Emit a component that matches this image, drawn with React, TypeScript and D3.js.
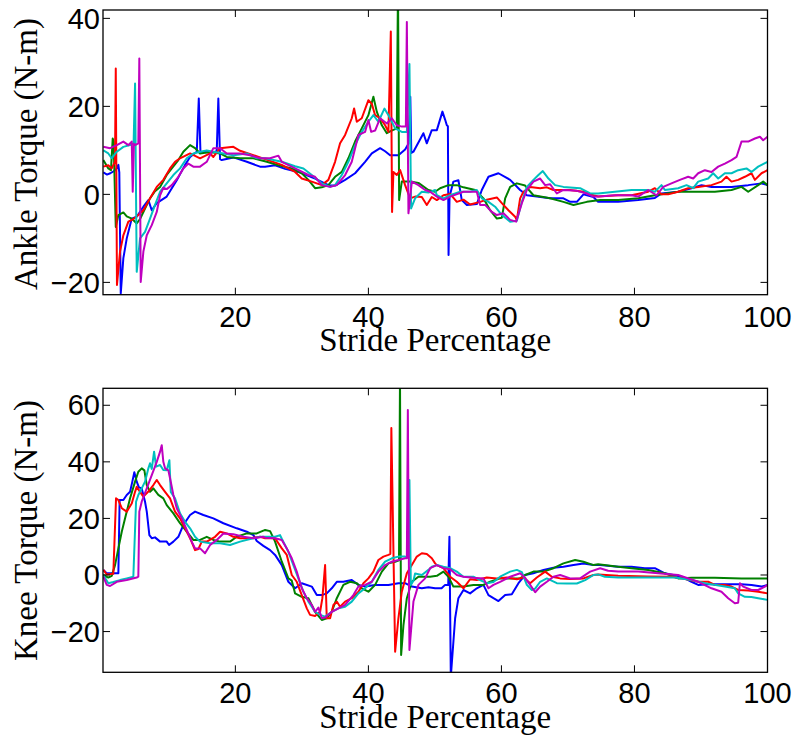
import React from "react";
import * as d3 from "d3";

type Pt = [number, number];

const xTicks = [20, 40, 60, 80, 100];
const ankleYTicks = [-20, 0, 20, 40];
const kneeYTicks = [-20, 0, 20, 40, 60];
const seriesColors = ["#0000ff", "#008000", "#ff0000", "#00bfbf", "#bf00bf"];

const ankleBlue: Pt[] = [
  [0.15, 5.0], [0.7, 4.5], [1.2, 4.8], [2.0, 5.5], [2.41, 6.7], [2.55, 5.0], [2.77, -22.5], [3.16, -14.5], [3.67, -10], [4.42, -5.5],
  [5.17, -5.1], [6.17, -2.8], [6.92, -1.3], [7.43, -3.6], [8.18, -2.0], [9.68, -0.5], [11.19, 3.2], [12.44, 6.7], [13.19, 8.5], [14.2, 9.7],
  [14.5, 21.8], [14.75, 9.7], [15.7, 9.6], [16.7, 9.6], [17.2, 9.8], [17.44, 21.8], [17.7, 8.0], [17.95, 7.8], [19.7, 8.4], [21.72, 7.4],
  [23.71, 6.3], [24.47, 6.3], [25.97, 6.6], [27.48, 5.8], [29.47, 5.1], [31.98, 3.6], [33.98, 2.1], [34.99, 2.0], [36.5, 3.3], [38.0, 4.8],
  [39.5, 7.4], [40.51, 9.3], [41.76, 10.5], [42.51, 9.8], [43.26, 8.9], [44.51, 8.9], [45.52, 10.2], [46.02, 11.5], [46.3, 22.2], [46.45, 9.4],
  [46.77, 9.7], [48.27, 13.9], [48.78, 11.6], [49.53, 14.6], [50.29, 14.6], [51.13, 18.8], [51.53, 17.0], [51.79, 15.7], [51.95, 15.5], [52.05, -13.8],
  [52.2, -0.5], [52.78, 2.9], [53.53, 3.2], [54.04, -1.3], [54.8, -2.4], [56.3, -2.2], [57.05, 1.0], [58.05, 4.0], [59.55, 4.8], [61.31, 3.3],
  [62.81, 1.0], [63.82, -0.2], [65.32, -0.5], [67.32, -0.9], [69.32, -0.9], [70.33, -1.7], [71.34, -1.7], [72.33, 0.0], [73.83, -0.6], [74.54, -1.7],
  [77.55, -1.7], [80.56, -1.3], [83.07, -0.8], [84.06, 0.2], [86.57, 0.6], [88.57, 1.4], [90.08, 2.1], [91.58, 1.7], [94.59, 1.7], [97.1, 2.1],
  [99.1, 2.5], [100, 2.1],
];

const ankleGreen: Pt[] = [
  [0.15, 7.8], [0.9, 5.9], [1.3, 5.5], [1.56, 12.7], [1.7, 12.0], [2.02, -7.4], [2.41, -4.7], [3.16, -4.1], [3.67, -5.0], [4.42, -5.5],
  [5.17, -6.6], [5.67, -5.6], [6.42, -3.2], [7.17, -0.9], [7.92, 0.7], [8.68, 1.7], [9.68, 4.4], [10.44, 5.9], [11.43, 7.8], [12.18, 9.7],
  [13.19, 11.2], [13.94, 10.5], [14.69, 9.3], [16.2, 9.6], [17.7, 9.3], [18.71, 8.5], [20.71, 8.2], [22.7, 8.2], [24.72, 7.4], [26.47, 6.6],
  [28.48, 5.9], [29.98, 4.8], [30.98, 3.3], [31.98, 1.4], [32.99, 1.6], [33.98, 2.1], [34.99, 4.0], [36.0, 5.1], [36.99, 8.2], [38.0, 12.0],
  [39.0, 15.0], [40.0, 18.0], [40.75, 22.2], [41.26, 18.8], [42.02, 15.7], [42.77, 13.9], [43.5, 14.5], [44.27, 15.0], [44.45, 48], [44.62, -1.3],
  [45.02, 2.9], [46.3, 2.9], [47.52, 2.6], [49.02, 1.0], [50.03, 0.6], [50.78, 1.4], [52.03, 2.1], [53.3, 2.1], [54.29, 1.6], [56.05, 1.0],
  [57.29, -0.9], [58.3, -3.6], [59.31, -5.5], [60.06, -5.3], [60.56, -0.9], [61.31, 1.7], [62.32, 2.5], [63.56, 2.0], [64.81, -0.2], [67.32, -0.9],
  [69.32, -1.7], [70.83, -2.4], [72.84, -1.7], [74.84, -1.3], [77.55, -1.3], [80.56, -0.9], [83.07, -0.2], [86.57, 0.6], [92.09, 0.6], [94.59, 1.0],
  [96.09, 1.7], [97.1, 0.6], [98.6, 2.1], [99.35, 2.9], [100, 2.1],
];

const ankleRed: Pt[] = [
  [0.15, 6.3], [0.9, 6.6], [1.41, 5.9], [1.9, 7.4], [2.02, 28.6], [2.2, -20.6], [2.66, -13.0], [3.16, -9.3], [3.91, -6.2], [4.66, -5.6],
  [5.41, -4.7], [6.17, -3.6], [7.17, -0.9], [8.18, 1.7], [9.17, 3.3], [10.18, 5.9], [10.93, 7.4], [11.68, 8.2], [13.19, 9.3], [14.69, 8.2],
  [16.2, 9.3], [16.69, 8.5], [17.7, 10.5], [19.7, 10.8], [20.71, 9.9], [22.71, 8.9], [24.47, 8.0], [26.98, 6.7], [28.98, 5.1], [29.98, 3.6],
  [31.49, 2.9], [32.99, 2.1], [33.98, 3.3], [34.99, 7.4], [35.74, 11.6], [36.5, 13.5], [37.5, 17.3], [37.85, 19.5], [38.26, 16.5], [39.0, 17.3],
  [40.0, 21.4], [40.51, 20.6], [41.01, 18.0], [41.76, 17.3], [42.51, 15.7], [43.01, 14.2], [43.37, 37.0], [43.56, -4.0], [43.76, 5.1], [44.27, 4.4],
  [44.77, 5.5], [45.52, 2.1], [46.27, -0.9], [47.02, -0.5], [48.03, -0.6], [48.78, -2.4], [49.53, -0.6], [50.29, -1.3], [51.28, -0.2], [52.29, 0.1],
  [53.29, -1.7], [54.29, -1.2], [55.29, -2.3], [56.8, -1.7], [57.8, -1.2], [59.31, -0.7], [60.06, -2.0], [61.05, -3.6], [62.06, -5.1], [62.32, -5.8],
  [62.81, -0.9], [63.31, 0.6], [64.32, 1.7], [65.82, 1.4], [66.83, 1.6], [67.82, 1.0], [70.33, 1.0], [72.33, 0.6], [73.83, -0.2], [74.54, -0.5],
  [77.55, -0.2], [79.55, -0.2], [82.06, 0.6], [83.07, 1.4], [84.06, 0.0], [85.07, 0.0], [86.57, 0.6], [88.07, 1.4], [89.58, 1.7], [91.58, 2.1],
  [93.08, 2.9], [93.83, 4.0], [94.59, 2.9], [95.59, 3.3], [96.6, 4.0], [97.59, 4.8], [98.1, 3.3], [99.1, 4.8], [100, 5.5],
];

const ankleCyan: Pt[] = [
  [0.15, 10.0], [0.9, 9.3], [1.41, 8.2], [2.17, 9.7], [3.16, 10.8], [4.17, 11.2], [4.7, 11.6], [4.92, 25.2], [5.17, -17.6], [5.67, -10.0],
  [6.42, -8.5], [7.17, -5.5], [7.92, -2.4], [8.68, 0.6], [9.68, 2.5], [10.68, 4.4], [11.68, 5.9], [12.69, 8.2], [13.68, 9.3], [14.69, 9.7],
  [15.7, 10.0], [16.69, 9.7], [18.2, 9.3], [19.7, 8.9], [21.72, 9.3], [23.22, 8.2], [24.47, 8.2], [26.98, 7.4], [28.98, 6.4], [30.23, 5.9],
  [31.49, 4.4], [32.99, 2.5], [34.24, 1.7], [34.99, 2.1], [36.0, 4.4], [36.99, 7.4], [38.0, 11.2], [39.0, 14.2], [40.0, 16.5], [40.75, 18.0],
  [41.5, 16.5], [42.41, 19.5], [43.01, 18.0], [44.02, 15.0], [45.02, 14.2], [45.78, 14.2], [46.17, 29.6], [46.42, -3.2], [47.02, -0.9], [48.03, 0.6],
  [49.02, 0.4], [50.03, 1.0], [50.29, -0.2], [51.28, -0.9], [52.29, -0.2], [53.79, 0.6], [55.29, 0.6], [56.3, 1.0], [57.05, -0.9], [58.05, -1.7],
  [59.05, -2.8], [60.06, -4.7], [61.31, -6.2], [62.32, -6.0], [63.07, -1.7], [63.82, 1.7], [64.81, 3.3], [65.56, 4.4], [66.22, 5.3], [67.07, 3.6],
  [68.07, 2.1], [69.32, 1.7], [71.83, 1.4], [73.34, 0.2], [74.54, 0.2], [77.05, 0.6], [79.55, 1.0], [82.06, 1.0], [83.07, 0.6], [84.06, 2.1],
  [84.57, 1.0], [86.57, 1.4], [87.82, 2.1], [88.83, 1.4], [89.58, 2.9], [91.08, 3.6], [91.83, 4.8], [92.59, 3.6], [93.59, 4.8], [94.59, 4.8],
  [95.59, 5.5], [96.84, 5.9], [97.59, 5.1], [98.6, 6.3], [100, 7.4],
];

const ankleMagenta: Pt[] = [
  [0.15, 10.8], [1.16, 10.5], [2.17, 11.2], [3.16, 12.0], [3.91, 11.2], [4.42, 12.0], [4.57, 0.6], [4.75, 11.5], [4.92, 11.2], [5.41, 11.6],
  [5.56, 30.9], [5.77, -19.9], [6.17, -13.0], [6.68, -9.3], [7.43, -7.0], [8.18, -4.0], [8.68, -0.2], [9.17, 1.5], [9.68, 1.2], [10.44, 2.1],
  [11.43, 4.0], [12.18, 5.9], [12.93, 7.0], [13.68, 6.3], [14.69, 6.3], [15.7, 7.4], [16.69, 10.5], [17.7, 10.5], [18.71, 9.3], [20.71, 9.3],
  [22.21, 8.9], [23.71, 8.2], [25.22, 8.2], [26.47, 8.8], [26.98, 7.4], [28.98, 5.9], [30.98, 4.4], [31.98, 4.0], [32.99, 2.1], [34.24, 1.7],
  [35.25, 2.1], [36.5, 4.4], [37.5, 7.4], [38.5, 13.5], [39.5, 14.2], [40.0, 16.9], [40.41, 14.2], [41.01, 14.5], [41.76, 17.3], [42.77, 16.1],
  [43.52, 17.3], [44.27, 15.7], [45.02, 15.4], [45.63, 15.4], [45.78, 39.2], [46.02, -4.3], [46.53, 2.9], [47.52, 2.1], [48.53, 1.0], [49.28, 0.6],
  [50.29, -0.5], [51.28, -1.3], [52.29, -0.5], [54.29, 0.6], [56.3, 0.6], [56.8, -2.4], [57.55, -2.4], [58.56, -4.0], [59.31, -4.7], [60.3, -4.3],
  [61.31, -5.8], [62.21, -6.2], [63.07, -2.0], [63.82, 1.0], [64.81, 2.9], [65.82, 3.6], [66.57, 2.1], [67.32, 2.3], [68.33, 0.2], [69.32, 1.0],
  [71.34, 0.8], [72.84, 0.2], [73.83, -0.5], [74.54, -0.5], [77.05, -0.2], [79.55, -0.2], [80.56, -0.5], [82.06, 1.0], [83.31, -0.2], [84.32, 1.7],
  [85.56, 2.5], [86.83, 3.3], [88.07, 4.0], [88.83, 3.6], [89.58, 4.8], [90.59, 5.5], [91.58, 5.1], [92.59, 6.3], [93.59, 7.0], [94.59, 7.8],
  [95.34, 8.5], [96.09, 12.0], [97.1, 12.0], [98.1, 12.7], [98.86, 13.1], [99.35, 12.3], [100, 13.1],
];

const kneeBlue: Pt[] = [
  [0.15, 1.8], [0.66, 0.6], [1.16, 0.6], [2.41, 0.6], [2.6, 26.5], [3.16, 26.5], [3.67, 28.3], [4.17, 29.4], [4.51, 33.0], [4.81, 36.3],
  [5.17, 33.0], [5.5, 31.0], [5.92, 30.6], [6.42, 25.9], [6.68, 22.4], [7.07, 14.1], [7.43, 13.0], [7.92, 13.3], [8.68, 11.8], [9.68, 11.8],
  [10.03, 10.6], [10.68, 11.8], [11.43, 13.5], [12.18, 17.7], [13.19, 21.2], [13.94, 22.4], [15.19, 21.2], [16.69, 20.0], [18.2, 18.3], [20.21, 16.5],
  [21.72, 15.3], [22.71, 14.1], [23.22, 12.0], [24.21, 10.3], [25.22, 8.8], [25.97, 7.1], [26.98, 3.5], [27.97, -2.4], [28.98, -4.7], [29.98, -2.9],
  [31.49, -4.1], [32.24, -7.1], [32.99, -7.1], [33.74, -6.5], [34.49, -4.7], [35.25, -2.4], [36.24, -2.4], [37.5, -1.8], [38.5, -3.5], [39.5, -4.1],
  [41.01, -3.5], [43.01, -3.5], [44.51, -2.9], [45.52, -2.9], [46.53, -4.1], [48.03, -4.7], [49.02, -4.3], [50.03, -4.7], [51.0, -4.7], [51.53, -3.5],
  [52.0, -3.5], [52.18, 13.5], [52.39, -36], [53.04, -15.3], [53.53, -8.2], [54.29, -5.3], [55.29, -6.5], [56.3, -4.7], [57.29, -3.5], [58.05, -7.1],
  [58.8, -8.2], [59.55, -9.2], [60.56, -7.1], [61.56, -6.8], [62.56, -2.9], [63.56, 0.0], [64.81, 0.6], [66.32, 1.8], [67.82, 2.6], [69.32, 2.9],
  [70.83, 3.5], [72.33, 4.1], [73.83, 3.5], [74.84, 3.5], [77.55, 2.9], [79.55, 2.9], [81.56, 2.4], [83.07, 2.4], [84.57, 0.6], [87.07, -0.6],
  [88.57, -2.4], [89.58, -3.5], [91.08, -3.3], [93.59, -3.3], [96.09, -3.3], [97.59, -3.5], [99.1, -4.1], [100, -3.5],
];

const kneeGreen: Pt[] = [
  [0.15, 0.0], [0.9, -0.9], [1.41, -0.3], [1.91, 3.5], [2.41, 9.4], [2.92, 15.3], [3.41, 20.0], [4.17, 27.1], [4.92, 33.0], [5.41, 36.5],
  [5.92, 37.7], [6.32, 37.0], [6.68, 31.8], [7.17, 29.4], [7.67, 30.6], [8.42, 28.3], [9.17, 27.1], [9.68, 24.7], [10.68, 21.8], [11.68, 18.3],
  [12.69, 15.3], [13.68, 12.4], [14.69, 12.4], [15.7, 13.5], [16.69, 12.4], [17.7, 11.8], [19.2, 11.8], [20.21, 13.5], [21.72, 14.7], [23.22, 14.7],
  [24.21, 15.7], [24.47, 15.9], [25.22, 15.5], [25.97, 11.8], [26.98, 4.7], [27.97, -1.2], [28.48, -2.0], [28.98, -6.5], [29.98, -7.7], [30.98, -8.2],
  [31.98, -13.0], [32.99, -15.9], [33.74, -15.3], [34.49, -13.0], [35.25, -8.2], [36.24, -3.5], [37.25, -2.4], [38.26, -2.9], [39.0, -4.7], [40.0, -5.9],
  [41.01, -3.5], [42.02, 1.2], [43.01, 4.1], [44.02, 4.7], [44.6, 5.2], [44.75, 70], [44.92, -28.3], [45.27, -17.7], [45.78, -8.2], [46.53, -2.4],
  [47.52, -0.6], [48.53, -0.6], [49.28, -0.6], [50.29, -0.3], [51.28, 1.2], [52.03, -0.6], [52.78, -4.1], [54.29, -4.1], [55.79, -3.5], [57.29, -3.5],
  [58.3, -2.4], [59.8, -1.2], [61.8, -1.2], [62.81, -1.2], [63.56, 0.0], [64.81, 1.2], [66.32, 1.2], [67.82, 2.4], [69.32, 4.1], [71.08, 5.3],
  [72.33, 4.7], [73.83, 3.5], [74.54, 3.8], [77.55, 2.9], [79.55, 2.4], [82.06, 1.8], [84.57, 0.6], [86.57, -1.2], [88.57, -1.0], [92.09, -1.0],
  [96.09, -1.2], [100, -1.2],
];

const kneeRed: Pt[] = [
  [0.15, 1.8], [0.66, 0.2], [1.65, 0.4], [2.06, 27.1], [2.41, 26.5], [2.92, 23.6], [3.67, 22.4], [4.42, 25.3], [4.92, 29.4], [5.17, 31.2],
  [5.67, 29.4], [6.17, 27.7], [6.92, 29.5], [7.67, 31.8], [8.18, 33.6], [8.68, 31.8], [9.43, 29.4], [10.18, 27.1], [10.93, 22.4], [11.68, 20.0],
  [12.44, 16.5], [13.19, 13.0], [13.94, 8.8], [14.44, 9.2], [14.95, 11.8], [15.7, 11.8], [16.95, 13.5], [17.7, 15.3], [18.71, 14.7], [19.7, 13.5],
  [20.71, 13.0], [22.21, 13.0], [23.71, 13.5], [24.47, 13.0], [25.97, 13.0], [26.98, 9.4], [27.73, 7.1], [28.48, 0.0], [29.23, -2.4], [29.98, -7.1],
  [30.74, -11.8], [31.23, -14.1], [31.98, -14.5], [32.74, -13.0], [33.08, -8.2], [33.49, 3.5], [33.74, -15.3], [34.24, -15.3], [34.74, -10.6], [35.25, -9.4],
  [35.74, -11.2], [36.5, -9.4], [37.5, -8.2], [38.5, -5.9], [39.25, -2.9], [40.0, -1.2], [40.75, 1.2], [41.5, 5.3], [42.26, 6.5], [43.01, 7.1],
  [43.3, 7.5], [43.45, 52.0], [44.02, -27.1], [44.51, -15.3], [45.02, -5.9], [45.78, 0.6], [46.53, 3.5], [47.28, 6.5], [48.03, 7.7], [48.78, 7.4],
  [49.53, 5.9], [50.03, 4.1], [50.29, 3.5], [51.28, 2.4], [52.29, -0.6], [53.29, -2.4], [54.29, -4.7], [55.29, -1.5], [56.3, -1.8], [57.8, -0.9],
  [59.31, -1.2], [60.81, -0.9], [62.32, -1.5], [63.31, -0.9], [64.32, -2.9], [65.32, -0.9], [66.57, 1.2], [67.58, -0.6], [68.83, -1.2], [70.33, -1.4],
  [72.33, -1.2], [73.83, 0.0], [74.54, 0.2], [77.55, -0.3], [82.06, -0.5], [85.56, -0.6], [87.07, -1.2], [89.58, -2.4], [91.08, -2.4], [92.09, -3.5],
  [93.59, -3.5], [94.59, -4.1], [95.59, -5.3], [97.1, -5.5], [98.6, -5.9], [100, -6.5],
];

const kneeCyan: Pt[] = [
  [0.15, 0.0], [0.9, -2.9], [1.65, -2.5], [2.66, -1.8], [3.67, -1.2], [4.66, -0.6], [5.07, 25.9], [5.41, 28.3], [5.92, 30.6], [6.42, 33.0],
  [6.92, 37.7], [7.17, 39.5], [7.43, 37.5], [7.78, 43.6], [8.08, 38.3], [8.68, 38.9], [9.17, 37.1], [9.68, 37.0], [10.08, 40.6], [10.29, 29.4],
  [10.93, 27.1], [11.68, 21.8], [12.44, 18.8], [13.19, 16.5], [13.94, 13.5], [14.69, 11.8], [16.2, 11.2], [17.7, 11.2], [19.2, 10.6], [20.71, 11.8],
  [22.21, 12.7], [23.71, 13.5], [24.47, 13.5], [25.97, 13.5], [26.72, 14.1], [26.98, 12.8], [27.97, 8.2], [28.72, 3.5], [29.47, -1.2], [30.23, -5.9],
  [30.98, -9.4], [31.98, -13.0], [32.74, -14.1], [33.49, -14.7], [34.49, -13.0], [35.49, -11.8], [36.5, -11.2], [37.5, -9.4], [38.5, -6.5], [39.5, -4.7],
  [40.51, -2.4], [41.5, 1.8], [42.51, 4.7], [43.52, 5.9], [44.51, 6.5], [45.52, 6.5], [46.02, 6.2], [46.17, 33.6], [46.38, -3.5], [46.77, -2.0],
  [47.02, 0.5], [48.03, 0.0], [49.02, 1.8], [49.53, 2.9], [50.29, 3.5], [51.28, 2.9], [52.29, 2.4], [53.29, 1.2], [54.29, -0.6], [55.79, -0.6],
  [56.8, -1.8], [57.8, -2.9], [58.8, -2.5], [59.8, -0.6], [61.31, 1.2], [62.32, 1.8], [63.07, 1.0], [63.82, -3.5], [64.57, -5.3], [65.07, -4.8],
  [65.82, -2.4], [66.83, -1.2], [68.33, -2.9], [69.83, -3.0], [71.34, -3.0], [72.59, -1.8], [73.83, 0.0], [74.54, 0.2], [75.55, -0.6], [77.55, -0.9],
  [82.06, -0.9], [86.07, -0.9], [88.57, -1.8], [90.59, -2.9], [93.59, -4.1], [95.09, -4.7], [95.59, -6.5], [96.6, -7.7], [97.59, -7.8], [98.6, -8.2],
  [100, -8.8],
];

const kneeMagenta: Pt[] = [
  [0.15, -0.6], [0.66, -3.5], [1.16, -3.9], [2.17, -2.4], [3.67, -1.8], [5.17, -0.9], [5.41, -0.6], [5.56, 22.4], [5.92, 25.9], [6.68, 30.6],
  [7.43, 35.3], [8.18, 40.0], [8.68, 43.6], [8.93, 45.9], [9.17, 40.0], [9.43, 37.7], [9.92, 37.0], [10.18, 34.2], [10.68, 28.3], [11.19, 23.6],
  [11.94, 20.0], [12.69, 15.9], [13.44, 11.8], [13.94, 9.4], [14.69, 9.4], [15.44, 7.7], [16.2, 10.6], [17.2, 12.4], [18.2, 14.7], [19.7, 14.4],
  [21.2, 13.5], [22.71, 13.0], [24.21, 13.5], [24.47, 13.2], [25.97, 13.0], [26.98, 12.4], [27.73, 9.4], [28.48, 5.9], [29.23, 1.2], [29.98, -4.7],
  [30.74, -8.2], [31.49, -10.6], [31.98, -13.0], [32.48, -11.5], [32.99, -15.3], [33.49, -15.0], [34.49, -13.0], [35.49, -11.8], [36.5, -10.6], [37.74, -7.1],
  [38.5, -4.1], [39.5, -3.5], [40.51, -2.4], [41.5, 1.2], [42.51, 3.5], [43.52, 4.7], [44.51, 5.3], [45.52, 5.9], [45.78, 5.9], [45.93, 58.3],
  [46.17, -26.5], [46.77, -9.4], [47.52, -3.5], [48.53, -1.2], [49.28, 2.4], [50.29, 3.5], [51.28, 2.4], [52.29, 2.0], [53.29, 0.0], [54.29, -0.6],
  [55.79, -1.0], [57.29, -1.2], [58.05, -4.7], [58.8, -3.5], [59.8, -2.4], [61.31, -0.6], [62.81, 0.6], [63.56, -1.0], [64.32, -3.5], [65.07, -6.1],
  [65.82, -4.1], [66.83, -2.4], [67.82, -0.6], [68.83, 0.0], [70.33, -1.2], [71.83, -1.2], [73.34, 1.2], [74.84, 2.4], [76.04, 1.5], [77.55, 1.2],
  [80.56, 1.2], [83.56, 0.6], [86.57, 0.0], [89.58, -2.4], [91.58, -4.7], [93.08, -5.9], [94.09, -8.2], [95.09, -10.0], [95.59, -9.8], [95.85, -2.9],
  [96.35, -4.1], [97.59, -5.3], [98.6, -5.3], [99.61, -4.1], [100, -3.5],
];

const ankleSeries = [ankleBlue, ankleGreen, ankleRed, ankleCyan, ankleMagenta];
const kneeSeries = [kneeBlue, kneeGreen, kneeRed, kneeCyan, kneeMagenta];

const W = 797;
const H = 740;
const LEFT = 103;
const RIGHT = 767.5;
const TICK = 7;
const tickFont = "'Liberation Sans', Arial, Helvetica, sans-serif";
const labelFont = "'Liberation Serif', 'Times New Roman', serif";

function fmt(v: number) {
  return v < 0 ? "\u2212" + Math.abs(v) : String(v);
}

interface PanelProps {
  id: string;
  series: Pt[][];
  yDomain: [number, number];
  top: number;
  bottom: number;
  yTicks: number[];
  yLabel: string;
  yLabelCenter: number;
  xTickBaseline: number;
  xLabelBaseline: number;
}

function Panel(p: PanelProps) {
  const x = d3.scaleLinear().domain([0.1, 100]).range([LEFT, RIGHT]);
  const y = d3.scaleLinear().domain(p.yDomain).range([p.bottom, p.top]);
  const line = d3
    .line<Pt>()
    .x((d) => x(d[0]))
    .y((d) => y(d[1]));
  const clipId = "clip-" + p.id;
  return (
    <g>
      <defs>
        <clipPath id={clipId}>
          <rect x={LEFT} y={p.top} width={RIGHT - LEFT} height={p.bottom - p.top} />
        </clipPath>
      </defs>
      <g clipPath={`url(#${clipId})`}>
        {p.series.map((s, i) => (
          <path
            key={i}
            d={line(s) || ""}
            fill="none"
            stroke={seriesColors[i]}
            strokeWidth={2}
            strokeLinejoin="round"
          />
        ))}
      </g>
      {xTicks.map((t) => (
        <g key={"xt" + t}>
          <line x1={x(t)} x2={x(t)} y1={p.bottom} y2={p.bottom - TICK} stroke="#000" strokeWidth={1} />
          <line x1={x(t)} x2={x(t)} y1={p.top} y2={p.top + TICK} stroke="#000" strokeWidth={1} />
          <text
            x={x(t)}
            y={p.xTickBaseline}
            textAnchor="middle"
            fontFamily={tickFont}
            fontSize={29}
            fill="#000"
          >
            {fmt(t)}
          </text>
        </g>
      ))}
      {p.yTicks.map((t) => (
        <g key={"yt" + t}>
          <line x1={LEFT} x2={LEFT + TICK} y1={y(t)} y2={y(t)} stroke="#000" strokeWidth={1} />
          <line x1={RIGHT} x2={RIGHT - TICK} y1={y(t)} y2={y(t)} stroke="#000" strokeWidth={1} />
          <text
            x={LEFT - 3}
            y={y(t)}
            dy="0.35em"
            textAnchor="end"
            fontFamily={tickFont}
            fontSize={29}
            fill="#000"
          >
            {fmt(t)}
          </text>
        </g>
      ))}
      <rect
        x={LEFT}
        y={p.top}
        width={RIGHT - LEFT}
        height={p.bottom - p.top}
        fill="none"
        stroke="#000"
        strokeWidth={1.3}
      />
      <text
        x={(LEFT + RIGHT) / 2}
        y={p.xLabelBaseline}
        textAnchor="middle"
        fontFamily={labelFont}
        fontSize={33}
        fill="#000"
      >
        Stride Percentage
      </text>
      <text
        transform={`translate(37, ${p.yLabelCenter}) rotate(-90)`}
        textAnchor="middle"
        fontFamily={labelFont}
        fontSize={33}
        fill="#000"
      >
        {p.yLabel}
      </text>
    </g>
  );
}

export default function App() {
  return (
    <svg
      width={W}
      height={H}
      viewBox={`0 0 ${W} ${H}`}
      style={{ position: "absolute", left: 0, top: 0, background: "#fff" }}
    >
      <rect x={0} y={0} width={W} height={H} fill="#fff" />
      <Panel
        id="ankle"
        series={ankleSeries}
        yDomain={[-22.8, 41.9]}
        top={10}
        bottom={294.7}
        yTicks={ankleYTicks}
        yLabel="Ankle Torque (N-m)"
        yLabelCenter={154}
        xTickBaseline={327}
        xLabelBaseline={351}
      />
      <Panel
        id="knee"
        series={kneeSeries}
        yDomain={[-34.4, 66]}
        top={388.3}
        bottom={672.3}
        yTicks={kneeYTicks}
        yLabel="Knee Torque (N-m)"
        yLabelCenter={530.5}
        xTickBaseline={703}
        xLabelBaseline={728}
      />
    </svg>
  );
}
